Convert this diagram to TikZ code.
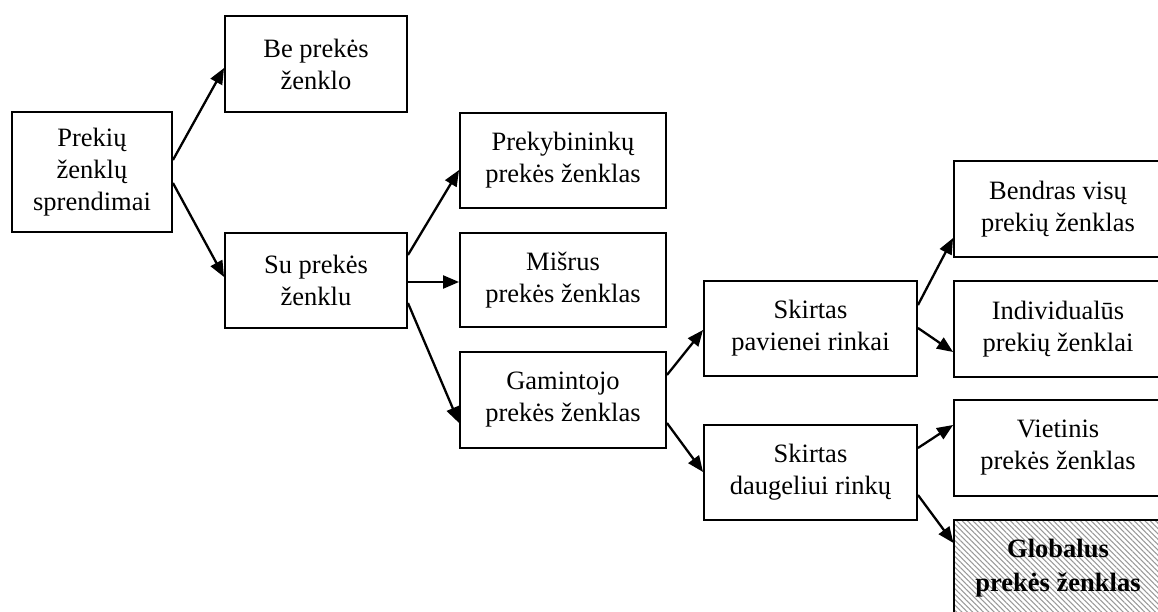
\documentclass[tikz,border=0pt]{standalone}
\usepackage{fontspec}
\setmainfont{Liberation Serif}
\usetikzlibrary{arrows.meta,patterns.meta}
\begin{document}
\begin{tikzpicture}[x=1pt,y=-1pt,
  box/.style={draw=black,line width=1.9pt,fill=white,align=center,inner sep=0pt,
    font=\fontsize{26.5}{32}\selectfont},
  hatched/.style={box,pattern={Lines[angle=-45,distance=3.8pt,line width=1.1pt]},
    pattern color=black!40,font=\fontsize{26.5}{34}\selectfont\bfseries},
  link/.style={line width=2.3pt,-{Triangle[length=16pt,width=13pt]}}
]
\useasboundingbox (0,0) rectangle (1158,612);

% first level
\node[box,minimum width=160,minimum height=120] (A) at (92,172) {Prekių\\ženklų\\sprendimai};
\node[box,minimum width=182,minimum height=96] (B) at (316,64) {Be prekės\\ženklo};
\node[box,minimum width=182,minimum height=95] (C) at (316,280.5) {Su prekės\\ženklu};

% second level
\node[box,minimum width=206,minimum height=95] (D) at (563,160.5) {Prekybininkų\\prekės ženklas};
\node[box,minimum width=206,minimum height=94] (E) at (563,280) {Mišrus\\prekės ženklas};
\node[box,minimum width=206,minimum height=96] (F) at (563,400) {Gamintojo\\prekės ženklas};

% third level
\node[box,minimum width=213,minimum height=95] (G) at (810.5,328.5) {Skirtas\\pavienei rinkai};
\node[box,minimum width=213,minimum height=95] (H) at (810.5,472.5) {Skirtas\\daugeliui rinkų};

% fourth level
\node[box,minimum width=208,minimum height=96] (I) at (1058,209) {Bendras visų\\prekių ženklas};
\node[box,minimum width=208,minimum height=96] (J) at (1058,329) {Individualūs\\prekių ženklai};
\node[box,minimum width=208,minimum height=96] (K) at (1058,448) {Vietinis\\prekės ženklas};
\node[hatched,minimum width=208,minimum height=96] (L) at (1058,568) {Globalus\\prekės ženklas};

% connectors
\draw[link] ([yshift=12]A.east) -- ([yshift=-4]B.west);
\draw[link] ([yshift=-11]A.east) -- ([yshift=3.5]C.west);
\draw[link] ([yshift=25.5]C.east) -- ([yshift=-9.5]D.west);
\draw[link] ([yshift=-1.5]C.east) -- ([yshift=-2]E.west);
\draw[link] ([yshift=-22.5]C.east) -- ([yshift=-23]F.west);
\draw[link] ([yshift=25]F.east) -- ([yshift=-1.5]G.west);
\draw[link] ([yshift=-23]F.east) -- ([yshift=0.5]H.west);
\draw[link] ([yshift=23.5]G.east) -- ([yshift=-29]I.west);
\draw[link] ([yshift=0.5]G.east) -- ([yshift=-23]J.west);
\draw[link] ([yshift=24.5]H.east) -- ([yshift=23]K.west);
\draw[link] ([yshift=-22.5]H.east) -- ([yshift=25]L.west);
\end{tikzpicture}
\end{document}
